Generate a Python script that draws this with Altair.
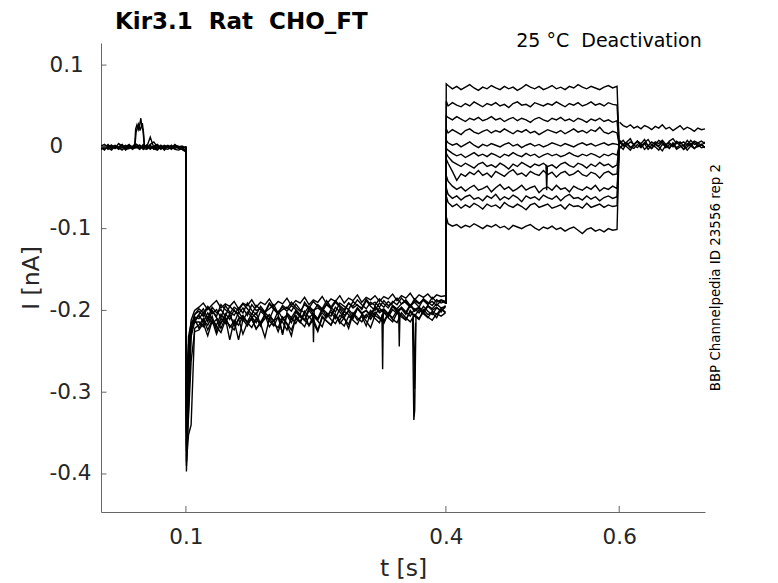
import altair as alt
import numpy as np
import pandas as pd

# ---------------- axes / ticks ----------------
X_DOMAIN = [0.002, 0.699]
Y_DOMAIN = [-0.4465, 0.127]
X_TICKS = [0.1, 0.4, 0.6]
Y_TICKS = [0.1, 0.0, -0.1, -0.2, -0.3, -0.4]

TITLE = "Kir3.1\u00a0 Rat\u00a0 CHO_FT"
CONDITION = "25 \u00b0C\u00a0 Deactivation"
SOURCE = "BBP Channelpedia ID 23556 rep 2"

# ---------------- data (current in pA) ----------------
# segment 1: holding, 0.002 .. 0.0995 s
PRE = {
    "p1": [2, -1, 3, -2, 1, -3, 0, 2, -1, 1, 3, -2, 1, -1, 3, 6, 0, -2, 1, -1, 2, -2, 0, 1, -1],
    "p2": [-2, 1, -3, 0, 2, -1, -4, 0, 3, -2, -1, 2, -3, 2, -2, 1, -3, 2, -1, 0, -3, 1, -2, -1, -4],
    "p3": [0, -3, 1, 2, -2, 0, 3, -2, 0, -3, 1, -2, 3, 0, 12, -1, 2, -3, 0, 2, -1, 3, -1, -3, -6],
    "p4": [-3, 0, -1, -4, 1, -2, -1, -3, -2, 0, -1, 2, -2, -3, 0, -2, -4, 0, -2, -3, 0, -3, -4, -2, -3],
    "p5": [1, 3, -1, 2, -2, 4, 1, -1, 2, 0, 3, 1, -1, 2, -3, 1, 3, -1, 2, 0, -2, 2, 1, -1, 0],
    "p6": [-1, -4, 2, -2, 0, -1, 2, -4, 1, -2, 0, -3, 1, -2, 2, -3, 0, 1, -4, 1, -2, 0, -1, -3, -5],
}
# short upward excursion around 0.045 s
BUMP_T = {
    "u1": [0.0395, 0.0410, 0.0420, 0.0435, 0.0450, 0.0465, 0.0480, 0.0492, 0.0505, 0.0520],
    "u2": [0.0398, 0.0412, 0.0425, 0.0440, 0.0455, 0.0470, 0.0485, 0.0497, 0.0510, 0.0522],
}
BUMP_I = {
    "u1": [1, 4, 22, 27, 21, 26, 35, 24, 20, 0],
    "u2": [-1, 2, 18, 24, 28, 20, 25, 29, 18, 2],
}

# segment 2: step to -0.2 nA, 0.1 .. 0.4 s
STEP_T = [0.0998, 0.1006, 0.1030, 0.1060, 0.1100]
STEP_ONSET = {
    "b1": [0, -397, -300, -225, -212],
    "b2": [0, -385, -352, -340, -222],
    "b3": [0, -365, -262, -222, -208],
    "b4": [0, -345, -242, -218, -215],
    "b5": [0, -325, -252, -228, -205],
    "b6": [0, -305, -232, -215, -210],
    "b7": [0, -390, -320, -232, -214],
    "b8": [0, -350, -280, -220, -205],
    "b9": [0, -372, -330, -262, -226],
    "b10": [0, -330, -250, -212, -200],
}
STEP_BODY = {
    "b1": [-205, -198, -210, -196, -203, -199, -207, -195, -201, -204, -197, -206, -193, -200, -198,
           -204, -192, -199, -203, -196, -201, -194, -199, -205, -190, -197, -201, -193, -198, -188,
           -196, -202, -191, -195, -199, -189, -194, -197, -186, -193, -190, -196, -188, -194, -191,
           -185, -192, -189, -195, -186, -191, -188, -193, -184, -190, -187, -189],
    "b2": [-218, -210, -224, -212, -229, -215, -208, -221, -213, -236, -211, -219, -209, -223, -214,
           -206, -220, -212, -226, -210, -217, -231, -208, -215, -204, -219, -211, -224, -207, -213,
           -218, -205, -216, -209, -222, -204, -212, -207, -219, -203, -210, -215, -201, -209, -214,
           -203, -208, -212, -200, -207, -211, -199, -205, -203, -209, -198, -202],
    "b3": [-210, -203, -214, -200, -209, -216, -204, -211, -199, -207, -213, -202, -208, -215, -201,
           -206, -211, -198, -205, -230, -203, -209, -200, -207, -212, -197, -204, -210, -198, -203,
           -207, -196, -202, -209, -199, -205, -197, -203, -200, -206, -195, -201, -198, -204, -194,
           -200, -197, -202, -193, -199, -196, -201, -194, -198, -192, -197, -195],
    "b4": [-214, -220, -208, -216, -211, -222, -209, -236, -212, -218, -207, -215, -221, -210, -217,
           -206, -213, -219, -208, -214, -224, -209, -216, -205, -212, -218, -207, -213, -220, -204,
           -211, -216, -206, -210, -217, -203, -209, -214, -205, -211, -202, -208, -213, -204, -209,
           -200, -206, -211, -202, -207, -199, -204, -209, -201, -205, -198, -203],
    "b5": [-201, -207, -196, -204, -199, -209, -194, -202, -206, -197, -203, -191, -200, -205, -195,
           -202, -198, -193, -204, -199, -196, -201, -192, -199, -203, -195, -200, -197, -201, -193,
           -198, -190, -196, -202, -191, -197, -193, -199, -188, -195, -200, -191, -196, -189, -194,
           -198, -192, -187, -194, -190, -196, -186, -192, -189, -194, -188, -191],
    "b6": [-222, -212, -218, -207, -225, -210, -216, -204, -219, -211, -206, -215, -209, -203, -217,
           -210, -205, -213, -208, -228, -204, -211, -206, -214, -201, -209, -204, -212, -199, -207,
           -202, -210, -198, -206, -201, -209, -197, -204, -200, -208, -196, -203, -199, -206, -195,
           -202, -198, -205, -194, -201, -197, -203, -195, -200, -196, -202, -194],
    "b7": [-206, -214, -203, -211, -218, -205, -212, -207, -216, -202, -210, -214, -204, -209, -219,
           -203, -208, -213, -201, -210, -206, -215, -202, -208, -212, -200, -207, -211, -203, -209,
           -199, -206, -212, -201, -205, -210, -198, -204, -209, -200, -206, -197, -203, -208, -199,
           -204, -196, -202, -207, -198, -203, -195, -201, -205, -197, -200, -196],
    "b8": [-198, -203, -195, -201, -207, -193, -199, -204, -196, -200, -192, -198, -205, -194, -199,
           -202, -191, -197, -203, -194, -198, -190, -196, -201, -193, -197, -189, -195, -200, -192,
           -196, -188, -194, -199, -191, -195, -187, -193, -198, -190, -194, -186, -192, -197, -189,
           -193, -185, -191, -196, -188, -192, -186, -190, -194, -187, -191, -189],
    "b9": [-224, -216, -231, -213, -220, -227, -212, -218, -224, -210, -229, -215, -211, -222, -216,
           -233, -210, -217, -221, -208, -216, -224, -210, -214, -220, -207, -215, -226, -209, -213,
           -218, -206, -214, -219, -207, -212, -217, -205, -213, -221, -206, -210, -216, -204, -211,
           -215, -203, -209, -214, -205, -210, -202, -208, -212, -204, -207, -203],
    "b10": [-196, -191, -199, -193, -188, -197, -192, -195, -189, -198, -191, -194, -187, -196, -190,
            -193, -186, -195, -189, -192, -185, -194, -188, -191, -184, -193, -187, -190, -183, -192,
            -186, -189, -182, -191, -185, -188, -181, -190, -184, -187, -182, -189, -183, -186, -180,
            -188, -182, -185, -179, -187, -181, -184, -180, -186, -181, -183, -182],
}

# brief spikes (time in s, current in pA)
SPIKE_T = {
    "s1": [0.3262, 0.3270, 0.3278],
    "s2": [0.3615, 0.3630, 0.3640, 0.3655],
    "s3": [0.3622, 0.3638, 0.3650],
    "s4": [0.5155, 0.5163, 0.5171],
    "s5": [0.3455, 0.3462, 0.3470],
    "s6": [0.2465, 0.2472, 0.2480],
}
SPIKE_I = {
    "s1": [-205, -272, -200],
    "s2": [-210, -334, -322, -208],
    "s3": [-204, -296, -215],
    "s4": [-22, -53, -24],
    "s5": [-200, -244, -205],
    "s6": [-203, -239, -199],
}

# segment 3: deactivation steps, 0.4 .. 0.6 s
TEST_START = [77, 56, 38, 22, 8, -2, -8, -15, -35, -50, -60, -85]
TEST_BODY = [
    [75, 71, 74, 70, 73, 76, 72, 69, 73, 71, 75, 72, 70, 74, 71, 73, 69, 72, 76, 73,
     71, 74, 70, 72, 75, 71, 73, 70, 74, 72, 76, 73, 71, 74, 72, 70, 73, 75, 72, 74],
    [50, 54, 51, 49, 53, 50, 55, 52, 49, 53, 51, 54, 50, 52, 48, 53, 55, 51, 52, 49,
     54, 52, 50, 53, 51, 55, 52, 49, 53, 51, 54, 50, 52, 55, 51, 53, 50, 54, 52, 51],
    [36, 33, 37, 34, 31, 35, 33, 36, 32, 34, 37, 33, 35, 31, 34, 36, 32, 35, 33, 30,
     34, 36, 33, 31, 35, 33, 36, 32, 34, 31, 35, 33, 30, 34, 32, 35, 31, 33, 30, 32],
    [17, 21, 18, 15, 20, 22, 18, 16, 19, 21, 17, 20, 18, 22, 19, 16, 20, 18, 21, 17,
     19, 15, 18, 21, 19, 17, 20, 16, 19, 22, 18, 20, 17, 21, 19, 24, 18, 16, 19, 17],
    [5, 2, 4, 0, 3, 6, 2, -1, 3, 1, 4, 2, 0, 3, 5, 1, 3, -1, 2, 4,
     1, 3, 0, 2, 5, 3, 1, 4, 2, 0, 3, 5, 2, 4, 1, 3, 5, 2, 4, 3],
    [-4, -8, -11, -9, -13, -10, -7, -11, -9, -12, -8, -10, -13, -9, -11, -7, -10, -12, -8, -11,
     -9, -13, -10, -8, -11, -9, -12, -10, -7, -10, -12, -9, -11, -8, -10, -13, -9, -11, -8, -10],
    [-12, -18, -21, -24, -20, -23, -26, -21, -19, -24, -22, -25, -20, -23, -27, -21, -24, -19, -22, -25,
     -21, -23, -20, -24, -22, -26, -21, -19, -23, -25, -20, -22, -26, -21, -24, -19, -23, -21, -25, -22],
    [-20, -30, -41, -33, -36, -31, -34, -29, -35, -32, -37, -30, -33, -36, -31, -28, -34, -32, -36, -30,
     -33, -35, -29, -34, -31, -37, -32, -30, -35, -33, -29, -34, -36, -31, -33, -38, -32, -30, -34, -33],
    [-42, -48, -52, -49, -54, -50, -47, -53, -51, -48, -55, -50, -46, -52, -49, -54, -51, -47, -53, -50,
     -48, -56, -51, -49, -53, -47, -52, -50, -55, -48, -51, -53, -49, -52, -47, -54, -50, -52, -48, -51],
    [-58, -63, -60, -65, -61, -59, -64, -62, -66, -60, -63, -58, -65, -61, -64, -59, -62, -67, -60, -63,
     -61, -65, -59, -62, -64, -60, -66, -61, -58, -63, -62, -65, -60, -64, -61, -66, -62, -60, -63, -61],
    [-68, -73, -70, -75, -71, -74, -69, -72, -76, -70, -73, -71, -75, -68, -72, -74, -70, -73, -77, -71,
     -69, -74, -72, -70, -75, -73, -71, -76, -70, -73, -72, -75, -69, -74, -72, -70, -74, -71, -73, -72],
    [-94, -97, -95, -99, -96, -98, -94, -97, -100, -96, -98, -95, -99, -97, -101, -96, -98, -100, -97, -95,
     -99, -102, -98, -100, -97, -101, -99, -103, -100, -98, -102, -106, -101, -99, -103, -101, -104, -100, -102, -101],
]

# segment 4: back to holding, 0.6 .. 0.699 s
POST = {
    "q1": [30, 26, 24, 27, 23, 25, 22, 26, 24, 21, 25, 23, 27, 22, 24, 20, 23, 26, 21, 24, 22, 19, 23, 21, 22],
    "q2": [4, 8, 2, 6, 3, 7, 1, 5, 9, 2, 6, 4, 8, 3, 5, 1, 7, 4, 6, 2, 8, 3, 5, 7, 4],
    "q3": [-2, 3, 0, -4, 2, -1, 4, -3, 1, -2, 3, 0, -5, 2, -1, 4, -3, 0, 2, -4, 1, -2, 3, -1, 0],
    "q4": [6, 1, 4, -1, 3, 7, 0, 5, 2, -2, 4, 1, 6, -1, 3, 0, 5, 2, -3, 4, 1, 6, 0, 3, -1],
    "q5": [1, -3, 5, 0, -2, 3, -1, 4, -3, 2, 0, -4, 3, 1, -2, 5, -1, 2, -3, 0, 4, -2, 1, 3, -1],
    "q6": [8, 3, 6, 10, 2, 7, 4, 9, 1, 6, 3, 8, 5, 2, 7, 10, 4, 6, 1, 8, 3, 7, 5, 2, 6],
}

# ---------------- build long table ----------------
rows = []


def add(name, ts, vals):
    for k, (t, v) in enumerate(zip(ts, vals)):
        rows.append({"trace": name, "idx": k, "t": float(t), "I": v / 1000.0})


for name, vals in PRE.items():
    add(name, np.linspace(0.002, 0.0995, len(vals)), vals)

for name in BUMP_T:
    add(name, BUMP_T[name], BUMP_I[name])

for name in STEP_BODY:
    body = STEP_BODY[name]
    ts = STEP_T + list(np.linspace(0.115, 0.3995, len(body)))
    add(name, ts, STEP_ONSET[name] + body)

for name in SPIKE_T:
    add(name, SPIKE_T[name], SPIKE_I[name])

for k, body in enumerate(TEST_BODY):
    ts = [0.4, 0.4004] + list(np.linspace(0.4025, 0.5975, len(body))) + [0.6]
    add("d%d" % k, ts, [-192, TEST_START[k]] + body + [2])

for name, vals in POST.items():
    add(name, np.linspace(0.6005, 0.699, len(vals)), vals)

df = pd.DataFrame(rows)

# ---------------- chart ----------------
W, H = 604, 469
FONT = "DejaVu Sans"
AX_COLOR = "#666666"
TXT = "#262626"

xs = alt.Scale(domain=X_DOMAIN, nice=False, zero=False)
ys = alt.Scale(domain=Y_DOMAIN, nice=False, zero=False)

x_axis = alt.Axis(
    values=X_TICKS, format=".1f", title="t [s]", grid=False, ticks=False, tickSize=0,
    labelPadding=14.5, labelFont=FONT, labelFontSize=21.5, labelColor=TXT,
    labelFlush=False, labelOverlap=False,
    domainColor=AX_COLOR, domainWidth=1,
    titleFont=FONT, titleFontSize=23.5, titleFontWeight="normal", titleColor=TXT,
    titleX=W / 2, titleY=63, titleAlign="center", titleBaseline="alphabetic",
)
y_axis = alt.Axis(
    values=Y_TICKS,
    labelExpr="datum.value == 0 ? '0' : (datum.value < 0 ? '-' + format(-datum.value, '.1f') : format(datum.value, '.1f'))",
    title="I [nA]", grid=False, ticks=False, tickSize=0,
    labelPadding=52, labelAlign="left", labelBaseline="middle",
    labelFont=FONT, labelFontSize=21.5, labelColor=TXT, labelFlush=False, labelOverlap=False,
    domainColor=AX_COLOR, domainWidth=1,
    titleFont=FONT, titleFontSize=23.5, titleFontWeight="normal", titleColor=TXT,
    titleX=-70, titleY=H / 2, titleAngle=270, titleAlign="center", titleBaseline="middle",
)

lines = alt.Chart(df).mark_line(color="black", strokeWidth=1.4, clip=True).encode(
    x=alt.X("t:Q", scale=xs, axis=x_axis),
    y=alt.Y("I:Q", scale=ys, axis=y_axis),
    detail="trace:N",
    order="idx:Q",
)

ytick = alt.Chart(pd.DataFrame({"I": Y_TICKS})).mark_rule(color=AX_COLOR, strokeWidth=1).encode(
    y=alt.Y("I:Q", scale=ys, axis=y_axis), x=alt.value(0), x2=alt.value(5.5)
)
xtick = alt.Chart(pd.DataFrame({"t": X_TICKS})).mark_rule(color=AX_COLOR, strokeWidth=1).encode(
    x=alt.X("t:Q", scale=xs, axis=x_axis), y=alt.value(H), y2=alt.value(H - 6)
)

title_txt = alt.Chart(pd.DataFrame({"s": [TITLE]})).mark_text(
    font=FONT, fontSize=23, fontWeight="bold", color="black", align="left", baseline="alphabetic"
).encode(text="s:N", x=alt.value(14), y=alt.value(-13.6))

cond_txt = alt.Chart(pd.DataFrame({"s": [CONDITION]})).mark_text(
    font=FONT, fontSize=19, color="black", align="right", baseline="alphabetic"
).encode(text="s:N", x=alt.value(600.7), y=alt.value(4))

src_txt = alt.Chart(pd.DataFrame({"s": [SOURCE]})).mark_text(
    font=FONT, fontSize=13.4, color="black", align="center", baseline="middle", angle=270
).encode(text="s:N", x=alt.value(615), y=alt.value(234.7))

chart = alt.layer(lines, ytick, xtick, title_txt, cond_txt, src_txt).properties(
    width=W, height=H,
    autosize=alt.AutoSizeParams(type="none"),
    padding={"left": 93, "top": 35, "right": 65, "bottom": 72},
    background="white",
).configure_view(stroke=None)

chart.save("out.html", embed_options={"renderer": "svg", "actions": False})
